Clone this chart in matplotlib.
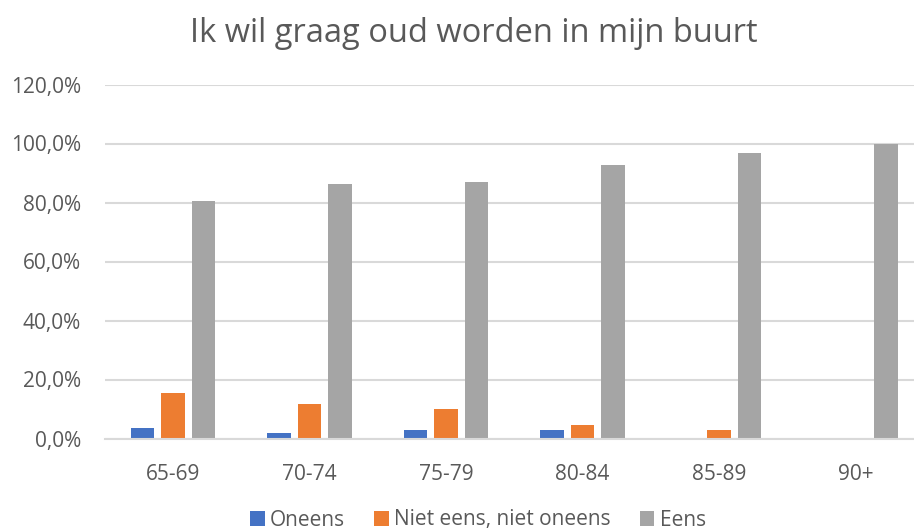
import numpy as np
import matplotlib
matplotlib.use("Agg")
import matplotlib.pyplot as plt
from matplotlib.ticker import FuncFormatter

plt.rcParams['font.family'] = ['Open Sans', 'DejaVu Sans']

# data (percentages)
categories = ['65-69', '70-74', '75-79', '80-84', '85-89', '90+']
oneens = [3.4, 1.8, 2.8, 2.8, 0.0, 0.0]
neutraal = [15.5, 11.6, 9.9, 4.5, 3.0, 0.0]
eens = [80.5, 86.4, 86.9, 92.6, 96.9, 100.0]
series_names = ['Oneens', 'Niet eens, niet oneens', 'Eens']
colors = ['#4472C4', '#ED7D31', '#A5A5A5']

fig = plt.figure(figsize=(9.14, 5.31), dpi=100)
ax = fig.add_axes([104.75 / 914, 92.5 / 531, 819 / 914, 354 / 531])

x = np.arange(len(categories))
w = 0.172
step = 0.223
for i, (vals, name, col) in enumerate(zip([oneens, neutraal, eens], series_names, colors)):
    ax.bar(x + (i - 1) * step, vals, width=w, color=col, label=name, zorder=3)

ax.set_xlim(-0.5, len(categories) - 0.5)
ax.set_ylim(0, 120)
ax.set_yticks(np.arange(0, 121, 20))
ax.yaxis.set_major_formatter(FuncFormatter(lambda v, p: f"{v:.1f}%".replace('.', ',')))
ax.set_xticks(x)
ax.set_xticklabels(categories)

ax.grid(axis='y', color='#D9D9D9', linewidth=1.5, zorder=0)
for s in ['top', 'right', 'left']:
    ax.spines[s].set_visible(False)
ax.spines['bottom'].set_color('#D9D9D9')
ax.spines['bottom'].set_linewidth(1.5)
ax.spines['bottom'].set_zorder(4)
ax.tick_params(axis='both', length=0, labelsize=15, colors='#595959')
ax.tick_params(axis='y', pad=17)
ax.tick_params(axis='x', pad=18)

fig.text(474 / 914, 1 - 33 / 531, 'Ik wil graag oud worden in mijn buurt',
         ha='center', va='center', fontsize=23.5, color='#595959')

leg = fig.legend(loc='center', bbox_to_anchor=(478 / 914, 1 - 520 / 531), ncol=3,
                 frameon=False, fontsize=15, handlelength=0.7, handleheight=0.7,
                 handletextpad=0.25, columnspacing=1.4, borderpad=0)
for t in leg.get_texts():
    t.set_color('#595959')

fig.savefig('out.png', dpi=100)
